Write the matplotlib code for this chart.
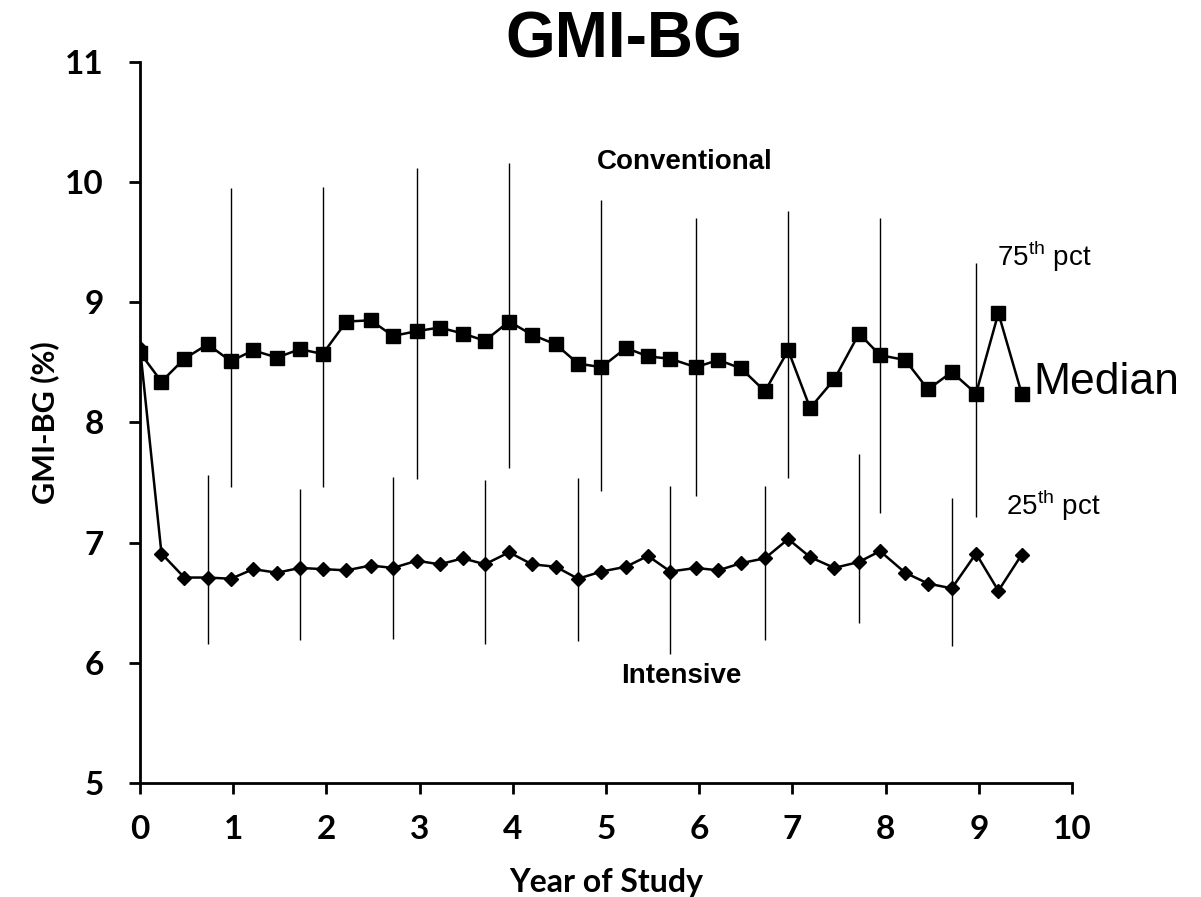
import matplotlib.pyplot as plt

plt.rcParams['mathtext.fontset'] = 'custom'
plt.rcParams['mathtext.rm'] = 'Liberation Sans'

# visit times (years)
years = [0, 0.23, 0.475, 0.725, 0.975, 1.215, 1.47, 1.715, 1.96, 2.215,
         2.475, 2.715, 2.97, 3.215, 3.465, 3.70, 3.96, 4.205, 4.46, 4.70,
         4.95, 5.215, 5.45, 5.69, 5.965, 6.205, 6.45, 6.705, 6.955, 7.19,
         7.45, 7.715, 7.94, 8.21, 8.455, 8.71, 8.97, 9.21, 9.46]

conventional = [8.58, 8.34, 8.53, 8.65, 8.51, 8.60, 8.54, 8.61, 8.57, 8.84,
                8.85, 8.72, 8.76, 8.79, 8.74, 8.68, 8.84, 8.73, 8.65, 8.49,
                8.46, 8.62, 8.55, 8.53, 8.46, 8.52, 8.45, 8.26, 8.60, 8.12,
                8.36, 8.74, 8.56, 8.52, 8.275, 8.42, 8.24, 8.91, 8.24]

intensive = [8.62, 6.91, 6.71, 6.71, 6.70, 6.78, 6.75, 6.79, 6.78, 6.77,
             6.81, 6.79, 6.85, 6.82, 6.87, 6.82, 6.92, 6.82, 6.80, 6.70,
             6.76, 6.80, 6.89, 6.76, 6.79, 6.77, 6.83, 6.87, 7.03, 6.88,
             6.79, 6.84, 6.93, 6.75, 6.66, 6.62, 6.91, 6.60, 6.90]

# 25th / 75th percentile bars (once a year)
conv_idx = [4, 8, 12, 16, 20, 24, 28, 32, 36]
conv_p25 = [7.46, 7.46, 7.53, 7.62, 7.43, 7.39, 7.54, 7.25, 7.21]
conv_p75 = [9.95, 9.96, 10.12, 10.16, 9.85, 9.70, 9.76, 9.70, 9.33]

int_idx = [3, 7, 11, 15, 19, 23, 27, 31, 35]
int_p25 = [6.16, 6.19, 6.20, 6.16, 6.18, 6.07, 6.19, 6.33, 6.14]
int_p75 = [7.56, 7.45, 7.55, 7.52, 7.54, 7.47, 7.47, 7.74, 7.37]

tick_font = ['Lato', 'DejaVu Sans']
text_font = ['Liberation Sans', 'DejaVu Sans']

fig = plt.figure(figsize=(12.01, 8.97), dpi=100)
ax = fig.add_axes([0.1166, 0.127, 0.7760, 0.804])

ax.vlines([years[i] for i in conv_idx], conv_p25, conv_p75, color='black', lw=1)
ax.vlines([years[i] for i in int_idx], int_p25, int_p75, color='black', lw=1)

ax.plot(years, conventional, color='black', lw=1.8, marker='s', markersize=9.5, zorder=3)
ax.plot(years, intensive, color='black', lw=1.8, marker='D', markersize=7.5, zorder=3)

ax.set_xlim(0, 10)
ax.set_ylim(5, 11)
ax.set_xticks(range(0, 11))
ax.set_yticks(range(5, 12))

for s in ['top', 'right']:
    ax.spines[s].set_visible(False)
for s in ['left', 'bottom']:
    ax.spines[s].set_linewidth(2)
ax.tick_params(axis='x', direction='out', length=8, width=2, pad=15)
ax.tick_params(axis='y', direction='out', length=8, width=2, pad=18)
for lab in ax.get_xticklabels() + ax.get_yticklabels():
    lab.set_family(tick_font)
    lab.set_fontweight('bold')
    lab.set_fontsize(24)

ax.set_xlabel('Year of Study', family=tick_font, fontweight='bold', fontsize=23, labelpad=17)
ax.set_ylabel('GMI-BG (%)', family=tick_font, fontweight='bold', fontsize=22, labelpad=4)

fig.text(0.52, 0.955, 'GMI-BG', ha='center', va='center', family=text_font,
         fontweight='bold', fontsize=46)

ax.text(5.85, 10.17, 'Conventional', ha='center', va='center', family=text_font,
        fontweight='bold', fontsize=20)
ax.text(5.81, 5.89, 'Intensive', ha='center', va='center', family=text_font,
        fontweight='bold', fontsize=20)
ax.text(9.2, 9.38, r'75$^{\mathrm{th}}$ pct', ha='left', va='center', family=text_font,
        fontsize=20)
ax.text(9.29, 7.31, r'25$^{\mathrm{th}}$ pct', ha='left', va='center', family=text_font,
        fontsize=20)
ax.text(9.59, 8.33, 'Median', ha='left', va='center', family=text_font, fontsize=32,
        clip_on=False)

fig.savefig('out.png', dpi=100)
